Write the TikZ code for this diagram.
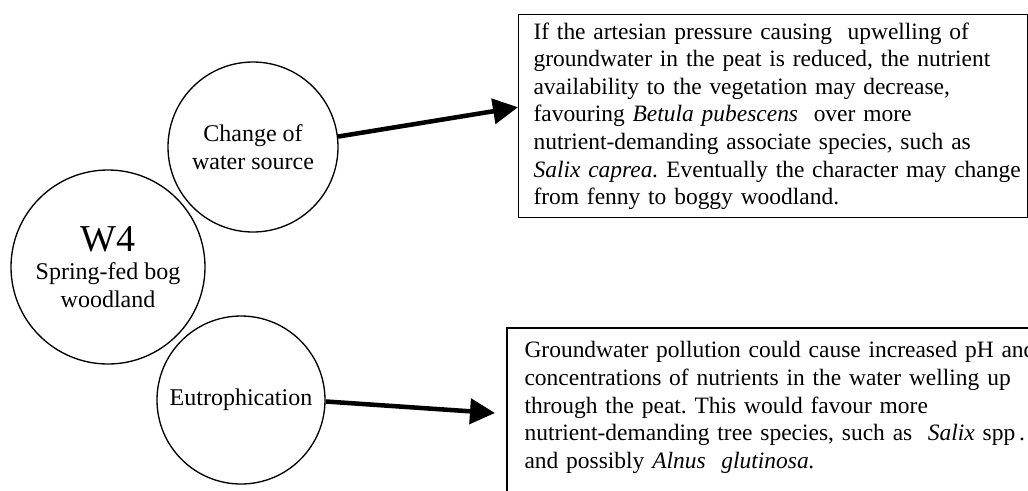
\documentclass[tikz,border=0pt]{standalone}
\usepackage{fontspec}
\setmainfont{Liberation Serif}
\usetikzlibrary{arrows.meta}
\frenchspacing

\begin{document}
\begin{tikzpicture}[x=0.75pt,y=0.75pt,yscale=-1,xscale=1,
  bubble/.style={draw, circle, line width=1pt, inner sep=0pt, align=center, font=\fontsize{18}{21}\selectfont},
  notebox/.style={line width=0.8pt, inner xsep=11.25pt, inner ysep=6pt, align=left, font=\fontsize{17.6}{20.7}\selectfont},
  fatarrow/.style={line width=3.4pt, -{Triangle[length=18.75pt, width=18.75pt]}}]
\useasboundingbox (0,0) rectangle (1028,490);

%Shape: Circle [id:W4]
\node[bubble, minimum size=145.5pt] (w4) at (108,267) {{\fontsize{28.5}{32}\selectfont W4}\\Spring-fed bog\\woodland};
%Shape: Circle [id:water]
\node[bubble, minimum size=127.5pt] (water) at (253,147) {Change of\\water source};
%Shape: Circle [id:eutro]
\node[bubble, minimum size=126pt] (eutro) at (241,400) {Eutrophication};

%Text Node
\node[notebox, draw, anchor=north west, text width=359pt] (fenny) at (518,14) {If the artesian pressure causing~ upwelling of\\
groundwater in the peat is reduced, the nutrient\\
availability to the vegetation may decrease,\\
favouring \textit{Betula pubescens}~ over more\\
nutrient-demanding associate species, such as\\
\mbox{\textit{Salix caprea.} Eventually the character may change}\\
from fenny to boggy woodland.};
%Text Node
\node[notebox, inner xsep=12.75pt, inner ysep=9.75pt, anchor=north west, text width=405pt] (pollute) at (507,328) {Groundwater pollution could cause increased pH and\\
concentrations of nutrients in the water welling up\\
through the peat. This would favour more\\
nutrient-demanding tree species, such as~ \textit{Salix} spp\,.\\
and possibly \textit{Alnus~ glutinosa.}};
\draw[line width=0.8pt] (pollute.north west) rectangle ([xshift=30pt,yshift=40pt]pollute.south east);

%Straight Lines
\coordinate (polluteTip) at (495,413);
\draw[fatarrow] (water.7) -- (fenny.178.6);
\draw[fatarrow] (eutro.-1.4) -- (polluteTip);
\end{tikzpicture}
\end{document}
